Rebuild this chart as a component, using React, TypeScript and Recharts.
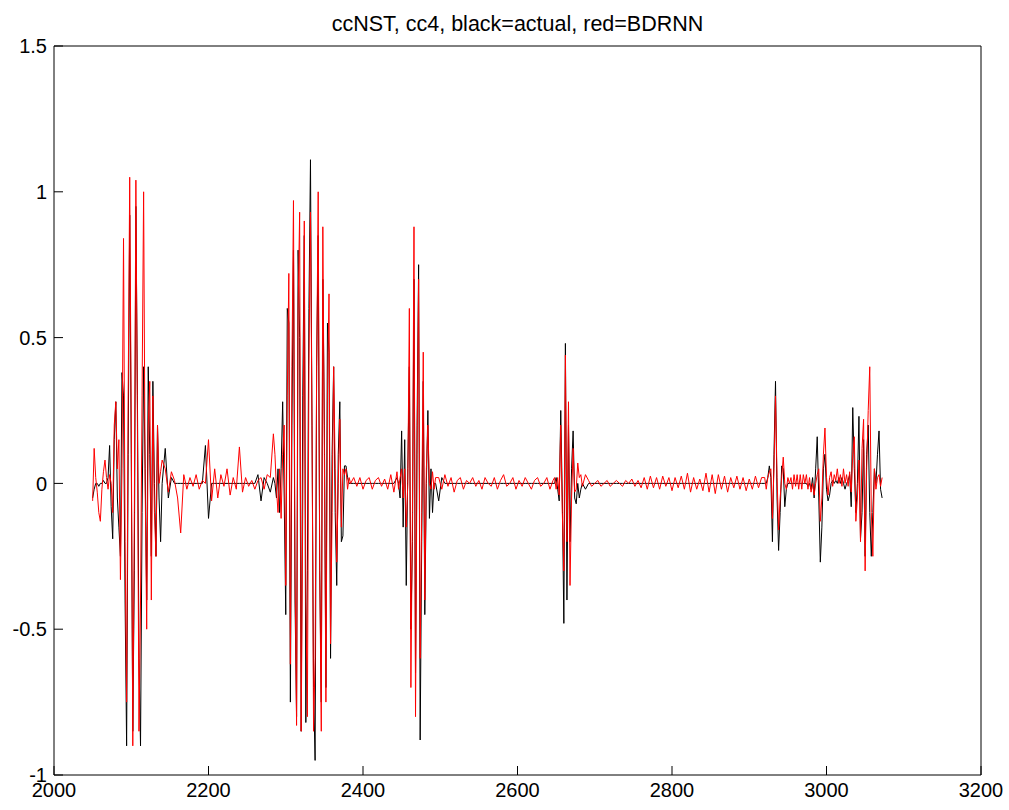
import { LineChart, Line, XAxis, YAxis } from "recharts";

document.body.style.margin = "0";

const title = "ccNST, cc4, black=actual, red=BDRNN";
const xTicks = [2000, 2200, 2400, 2600, 2800, 3000, 3200];
const yTicks = [-1, -0.5, 0, 0.5, 1, 1.5];

// burst 1: 2050..2140, every 2
const burst1Actual = [-0.05, -0.02, 0.0, 0.0, -0.01, 0.0, 0.0, 0.01, 0.0, 0.0, 0.02, 0.13, -0.08, -0.19, 0.15, 0.28, -0.05, -0.15, -0.25, 0.38, 0.3, -0.4, -0.9, 0.1, 0.92, 0.1, -0.85, -0.3, 0.95, 0.3, -0.6, -0.9, -0.1, 0.4, 0.05, -0.4, 0.4, 0.1, -0.25, 0.35, 0.0, -0.25, 0.2, -0.05, -0.2, 0.0];
const burst1Bdrnn = [-0.06, 0.12, 0.02, -0.03, -0.1, -0.13, -0.02, 0.04, 0.08, 0.02, -0.02, 0.03, 0.0, -0.1, 0.2, 0.28, 0.05, 0.15, -0.33, 0.05, 0.84, -0.2, -0.75, 0.3, 1.05, 0.2, -0.9, -0.1, 1.04, 0.2, -0.85, -0.4, 0.3, 1.0, 0.0, -0.5, 0.2, 0.35, -0.4, 0.3, -0.1, -0.25, 0.2, 0.0, 0.04, 0.08];

// quiet 1: 2144..2284, every 4
const quiet1Actual = [0.12, -0.05, 0.02, 0, 0, 0, 0, 0, 0, 0, 0, 0, 0, 0.13, -0.12, 0, 0, 0, 0, 0, 0, 0, 0, 0, 0, 0, 0, 0, 0, 0, 0.03, -0.06, 0.02, 0, -0.03, 0.02];
const quiet1Bdrnn = [0.05, -0.03, 0.04, 0.01, -0.05, -0.17, 0.03, -0.02, 0.02, -0.01, 0.03, -0.02, 0.01, 0.0, 0.15, -0.06, 0.05, -0.05, 0.03, -0.01, 0.05, -0.04, 0.02, -0.02, 0.125, -0.03, 0.02, -0.01, 0.01, -0.02, 0.01, 0.02, -0.02, 0.03, 0.02, 0.17];

// burst 2: 2286..2384, every 2
const burst2Actual = [0.0, -0.05, 0.05, -0.1, 0.05, 0.28, -0.05, -0.45, 0.6, 0.55, -0.75, 0.2, 0.8, -0.4, -0.8, 0.8, 0.5, -0.85, 0.3, 0.85, -0.82, -0.3, 0.6, 1.11, 0.2, -0.7, -0.95, 0.4, 0.85, -0.3, -0.75, 0.7, 0.2, -0.7, 0.55, 0.45, -0.6, 0.1, 0.4, -0.1, -0.35, 0.1, 0.28, -0.2, -0.18, 0.06, 0.06, 0.02, 0.0, 0.0];
const burst2Bdrnn = [0.1, -0.02, -0.1, 0.05, -0.12, 0.1, 0.2, -0.35, 0.3, 0.72, -0.62, 0.4, 0.97, -0.3, -0.83, 0.6, 0.93, -0.85, -0.1, 0.9, -0.4, -0.8, 0.4, 0.93, 0.2, -0.85, -0.6, 0.4, 1.0, -0.3, -0.85, 0.88, 0.1, -0.75, 0.3, 0.65, -0.55, -0.1, 0.4, 0.05, -0.27, 0.0, 0.22, -0.15, 0.05, 0.03, 0.05, -0.02, 0.02, 0.0];

// quiet 2: 2388..2444, every 4
const quiet2Actual = [0, 0, 0, 0, 0, 0, 0, 0, 0, 0, 0, 0, 0, 0, 0.02];
const quiet2Bdrnn = [0.02, -0.01, 0.02, -0.02, 0.01, 0.02, -0.02, 0.01, 0.02, -0.01, 0.015, -0.02, 0.03, -0.03, 0.04];

// burst 3: 2446..2494, every 2
const burst3Actual = [0.0, -0.05, 0.18, -0.15, 0.15, -0.35, 0.05, 0.4, -0.5, -0.2, 0.7, -0.65, 0.2, 0.75, -0.88, -0.2, 0.35, -0.45, 0.0, 0.25, -0.12, 0.05, -0.1, 0.0, 0.0];
const burst3Bdrnn = [-0.02, 0.02, 0.05, -0.05, 0.05, -0.15, 0.0, 0.6, -0.7, -0.1, 0.88, -0.8, 0.1, 0.7, -0.6, -0.1, 0.45, -0.4, 0.05, 0.2, 0.0, -0.02, 0.04, -0.02, 0.02];

// quiet 3: 2498..2646, every 4
const quiet3Actual = [-0.06, 0.02, 0, 0, 0, 0, 0, 0, 0, 0, 0, 0, 0, 0, 0, 0, 0, 0, 0, 0, 0, 0, 0, 0, 0, 0, 0, 0, 0, 0, 0, 0, 0, 0, 0, 0, 0, 0];
const quiet3Bdrnn = [0.02, -0.02, 0.03, -0.01, 0.02, -0.03, 0.01, 0.02, -0.02, 0.01, 0.0, 0.02, -0.01, 0.01, -0.02, 0.02, 0.0, -0.01, 0.02, -0.02, 0.01, 0.03, -0.01, 0.0, 0.02, -0.02, 0.01, -0.01, 0.02, 0.0, -0.02, 0.01, 0.02, -0.01, 0.0, 0.02, -0.02, 0.01];

// burst 4: 2648..2684, every 2
const burst4Actual = [0.0, 0.02, -0.02, -0.06, 0.25, -0.05, -0.48, 0.48, -0.4, 0.2, -0.2, 0.05, 0.18, -0.05, -0.07, 0.0, -0.05, -0.02, 0.0];
const burst4Bdrnn = [0.02, -0.02, 0.02, -0.04, 0.2, -0.1, -0.3, 0.44, -0.2, 0.28, -0.35, -0.05, 0.12, -0.03, -0.02, 0.07, 0.02, 0.03, -0.01];

// quiet 4: 2688..2916, every 4
const quiet4Actual = [-0.02, 0, 0, 0, 0, 0, 0, 0, 0, 0, 0, 0, 0, 0, 0, 0, 0, 0, 0, 0, 0, 0, 0, 0, 0, 0, 0, 0, 0, 0, 0, 0, 0, 0, 0, 0, 0, 0, 0, 0, 0, 0, 0, 0, 0, 0, 0, 0, 0, 0, 0, 0, 0, 0, 0, 0, 0, 0];
const quiet4Bdrnn = [0.03, 0.01, -0.01, 0.0, 0.01, -0.01, 0.0, 0.01, -0.01, 0.0, 0.01, 0.0, -0.01, 0.01, 0.0, 0.015, -0.01, 0.01, -0.015, 0.02, -0.02, 0.025, -0.015, 0.02, -0.02, 0.025, -0.01, 0.02, -0.025, 0.02, -0.015, 0.025, -0.02, 0.035, -0.03, 0.02, -0.02, 0.015, -0.025, 0.035, -0.03, 0.03, -0.035, 0.03, -0.02, 0.025, -0.03, 0.02, -0.015, 0.025, -0.02, 0.02, -0.025, 0.015, -0.02, 0.025, -0.015, 0.02];

// burst 5: 2920..2952, every 2
const burst5Actual = [0.0, 0.0, 0.02, 0.06, 0.02, -0.2, 0.1, 0.35, -0.05, -0.23, -0.1, 0.06, 0.05, -0.08, -0.02, 0.0, 0.0];
const burst5Bdrnn = [0.02, -0.02, 0.02, 0.04, 0.05, -0.12, 0.05, 0.3, 0.02, -0.16, -0.05, 0.02, 0.09, 0.0, -0.02, 0.02, 0.0];

// burst 6: 2954..3072, every 2
const burst6Actual = [0, 0, 0, 0, 0, 0, 0, 0, 0, 0, 0, -0.01, 0.0, -0.02, 0.02, -0.05, 0.05, 0.16, -0.05, -0.27, -0.15, 0.05, 0.1, -0.02, -0.06, -0.04, 0.0, 0.01, 0.0, 0.01, 0.0, 0.02, 0.0, 0.02, 0.0, -0.02, 0.0, 0.01, 0.03, -0.08, 0.26, 0.05, -0.1, 0.0, 0.23, -0.19, -0.1, 0.15, -0.25, 0.1, 0.2, -0.1, -0.25, -0.1, 0.05, 0.0, 0.1, 0.18, -0.02, -0.05];
const burst6Bdrnn = [0.02, -0.02, 0.03, -0.01, 0.03, -0.02, 0.03, -0.02, 0.03, 0.0, 0.03, -0.02, 0.02, -0.03, 0.0, -0.04, 0.0, 0.03, 0.05, -0.13, -0.05, 0.1, 0.19, 0.02, -0.04, 0.02, 0.04, -0.01, 0.03, 0.01, 0.05, 0.0, 0.03, -0.01, 0.05, 0.0, 0.03, -0.01, 0.04, -0.03, 0.1, 0.16, -0.13, -0.05, 0.08, -0.2, 0.12, 0.22, -0.3, 0.05, 0.25, 0.4, -0.1, -0.25, 0.05, -0.02, 0.02, 0.03, -0.01, 0.02];

const segments = [
  { start: 2050, step: 2, actual: burst1Actual, bdrnn: burst1Bdrnn },
  { start: 2144, step: 4, actual: quiet1Actual, bdrnn: quiet1Bdrnn },
  { start: 2286, step: 2, actual: burst2Actual, bdrnn: burst2Bdrnn },
  { start: 2388, step: 4, actual: quiet2Actual, bdrnn: quiet2Bdrnn },
  { start: 2446, step: 2, actual: burst3Actual, bdrnn: burst3Bdrnn },
  { start: 2498, step: 4, actual: quiet3Actual, bdrnn: quiet3Bdrnn },
  { start: 2648, step: 2, actual: burst4Actual, bdrnn: burst4Bdrnn },
  { start: 2688, step: 4, actual: quiet4Actual, bdrnn: quiet4Bdrnn },
  { start: 2920, step: 2, actual: burst5Actual, bdrnn: burst5Bdrnn },
  { start: 2954, step: 2, actual: burst6Actual, bdrnn: burst6Bdrnn },
];

const data = segments.flatMap((s) =>
  s.actual.map((a, i) => ({ x: s.start + i * s.step, actual: a, bdrnn: s.bdrnn[i] }))
);

const font = "'Liberation Sans', Arial, Helvetica, sans-serif";
const tickStyle = { fill: "#000", fontSize: 20, fontFamily: font };

export default function App() {
  return (
    <div style={{ position: "relative", width: 1009, height: 810, background: "#fff", fontFamily: font }}>
      <div
        style={{
          position: "absolute",
          left: 54,
          width: 927,
          top: 13,
          textAlign: "center",
          fontSize: 21.5,
          lineHeight: "22px",
          color: "#000",
        }}
      >
        {title}
      </div>
      <LineChart width={1009} height={810} data={data} margin={{ top: 45, right: 27, bottom: 0, left: 0 }}>
        <XAxis
          xAxisId="b"
          dataKey="x"
          type="number"
          domain={[2000, 3200]}
          ticks={xTicks}
          interval={0}
          height={35}
          tickSize={-9}
          tickMargin={17}
          stroke="#000"
          tick={tickStyle}
          allowDataOverflow
        />
        <XAxis
          xAxisId="t"
          orientation="top"
          dataKey="x"
          type="number"
          domain={[2000, 3200]}
          ticks={xTicks}
          interval={0}
          height={1}
          tickSize={-9}
          tick={false}
          stroke="#000"
          allowDataOverflow
        />
        <YAxis
          yAxisId="l"
          type="number"
          domain={[-1, 1.5]}
          ticks={yTicks}
          interval={0}
          width={54}
          tickSize={-9}
          tickMargin={16}
          stroke="#000"
          tick={tickStyle}
          allowDataOverflow
        />
        <YAxis
          yAxisId="r"
          orientation="right"
          type="number"
          domain={[-1, 1.5]}
          ticks={yTicks}
          interval={0}
          width={1}
          tickSize={-9}
          tick={false}
          stroke="#000"
          allowDataOverflow
        />
        <Line
          xAxisId="b"
          yAxisId="l"
          type="linear"
          dataKey="actual"
          stroke="#000"
          strokeWidth={1}
          dot={false}
          isAnimationActive={false}
        />
        <Line
          xAxisId="b"
          yAxisId="l"
          type="linear"
          dataKey="bdrnn"
          stroke="#ff0000"
          strokeWidth={1}
          dot={false}
          isAnimationActive={false}
        />
      </LineChart>
    </div>
  );
}
